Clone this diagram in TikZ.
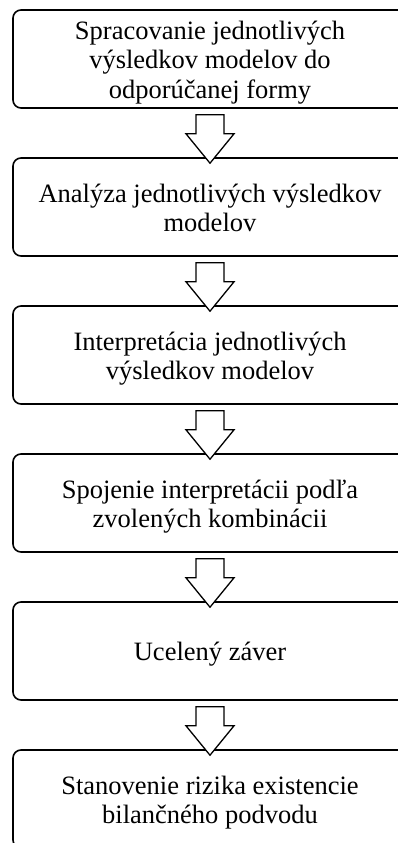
\documentclass[tikz,border=0pt]{standalone}
\usepackage{fontspec}
\setmainfont{Liberation Serif}
\usetikzlibrary{calc}
\newcommand{\boxtext}[1]{\raisebox{-4pt}[\height][\depth]{\begin{tabular}{@{}c@{}}#1\end{tabular}}}
\begin{document}
\begin{tikzpicture}[x=1pt,y=1pt,
  stepbox/.style={draw, line width=1.6pt, rounded corners=8pt, minimum width=394pt, minimum height=98pt,
    align=center, inner sep=0pt, font=\fontsize{26.5}{29.5}\selectfont},
  hollowarrow/.style={draw, line width=1.3pt, fill=white, line join=miter}]
\useasboundingbox (0,0) rectangle (398,-843);
\clip (0,0) rectangle (398,-843);
\node[stepbox] (b1) at (210,-59) {\boxtext{Spracovanie jednotlivých\\výsledkov modelov do\\odporúčanej formy}};
\node[stepbox] (b2) at (210,-207) {\boxtext{Analýza jednotlivých výsledkov\\modelov}};
\node[stepbox] (b3) at (210,-355) {\boxtext{Interpretácia jednotlivých\\výsledkov modelov}};
\node[stepbox] (b4) at (210,-503) {\boxtext{Spojenie interpretácii podľa\\zvolených kombinácii}};
\node[stepbox] (b5) at (210,-651) {\boxtext{Ucelený záver}};
\node[stepbox] (b6) at (210,-799) {\boxtext{Stanovenie rizika existencie\\bilančného podvodu}};
\foreach \a/\b in {b1/b2,b2/b3,b3/b4,b4/b5,b5/b6}{
  \draw[hollowarrow] ($(\a.south)+(-14,-6)$) -- ($(\a.south)+(14,-6)$) -- ($(\a.south)+(14,-25)$)
    -- ($(\a.south)+(24,-25)$) -- ($(\b.north)+(0,-6)$) -- ($(\a.south)+(-24,-25)$)
    -- ($(\a.south)+(-14,-25)$) -- cycle;
}
\end{tikzpicture}
\end{document}
